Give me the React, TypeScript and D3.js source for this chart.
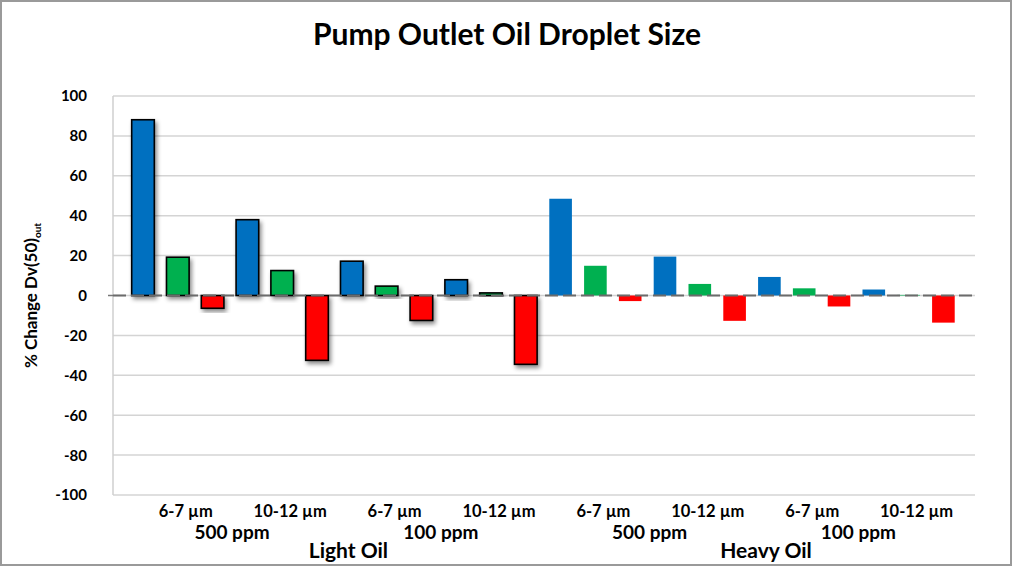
import React, { useEffect, useRef } from "react";
import * as d3 from "d3";

const W = 1012;
const H = 566;
const margin = { top: 96, right: 37, bottom: 71, left: 113 };

// data
const oils = ["Light Oil", "Heavy Oil"];
const concentrations = ["500 ppm", "100 ppm"];
const sizes = ["6-7 µm", "10-12 µm"];
const seriesColors = ["#0070C0", "#00B050", "#FF0000"];
const lightOil = [
  [88.1, 19.2, -6.4],
  [38.0, 12.5, -32.5],
  [17.2, 4.7, -12.5],
  [7.9, 1.3, -34.5],
];
const heavyOil = [
  [48.5, 14.9, -2.8],
  [19.5, 5.8, -12.7],
  [9.3, 3.6, -5.5],
  [3.0, 0.3, -13.6],
];
const yTicks = [100, 80, 60, 40, 20, 0, -20, -40, -60, -80, -100];

const font = "Lato, 'Open Sans', sans-serif";

export default function App() {
  const ref = useRef<SVGSVGElement>(null);

  useEffect(() => {
    document.body.style.margin = "0";
    const svg = d3.select(ref.current);
    svg.selectAll("*").remove();

    const innerW = W - margin.left - margin.right;
    const innerH = H - margin.top - margin.bottom;

    // drop shadow for the light oil bars
    const defs = svg.append("defs");
    const f = defs
      .append("filter")
      .attr("id", "shadow")
      .attr("x", "-30%")
      .attr("y", "-30%")
      .attr("width", "160%")
      .attr("height", "160%");
    f.append("feDropShadow")
      .attr("dx", 2)
      .attr("dy", 3)
      .attr("stdDeviation", 2)
      .attr("flood-color", "#000")
      .attr("flood-opacity", 0.45);

    svg
      .append("rect")
      .attr("x", 1)
      .attr("y", 1)
      .attr("width", W - 2)
      .attr("height", H - 2)
      .attr("fill", "#fff")
      .attr("stroke", "#9a9a9a")
      .attr("stroke-width", 2);

    // title
    svg
      .append("text")
      .attr("x", W / 2 + 1)
      .attr("y", 45)
      .attr("text-anchor", "middle")
      .style("font-family", font)
      .style("font-weight", "bold")
      .style("font-size", "30px")
      .text("Pump Outlet Oil Droplet Size");

    const g = svg
      .append("g")
      .attr("transform", `translate(${margin.left}, ${margin.top})`);

    const y = d3.scaleLinear().domain([-100, 100]).range([innerH, 0]);

    // flatten groups: oil x concentration x size
    const groups: { oil: number; conc: number; size: number; vals: number[] }[] = [];
    [lightOil, heavyOil].forEach((data, oi) => {
      data.forEach((vals, i) => {
        groups.push({ oil: oi, conc: Math.floor(i / 2), size: i % 2, vals });
      });
    });

    const bars = groups.flatMap((gr, gi) =>
      gr.vals.map((v, si) => ({ key: gi * 3 + si, v, si, oil: gr.oil }))
    );

    const x = d3
      .scaleBand<number>()
      .domain(d3.range(bars.length))
      .range([12.6, 847.8])
      .paddingInner(0.35)
      .paddingOuter(0.175);

    // gridlines
    g.append("g")
      .selectAll("line")
      .data(yTicks)
      .join("line")
      .attr("x1", 0)
      .attr("x2", innerW)
      .attr("y1", (d) => y(d))
      .attr("y2", (d) => y(d))
      .attr("stroke", "#d4d4d4")
      .attr("stroke-width", 1.5);

    // y axis
    g.append("line")
      .attr("x1", 0)
      .attr("x2", 0)
      .attr("y1", 0)
      .attr("y2", innerH)
      .attr("stroke", "#cfcfcf")
      .attr("stroke-width", 1.5);
    g.append("line")
      .attr("x1", -5)
      .attr("x2", 0)
      .attr("y1", y(0))
      .attr("y2", y(0))
      .attr("stroke", "#777")
      .attr("stroke-width", 1.5);

    g.append("g")
      .selectAll("text")
      .data(yTicks)
      .join("text")
      .attr("x", -26)
      .attr("y", (d) => y(d))
      .attr("dy", "0.36em")
      .attr("text-anchor", "end")
      .style("font-family", font)
      .style("font-weight", "bold")
      .style("font-size", "15px")
      .text((d) => d);

    // y axis title
    const yt = svg
      .append("text")
      .attr("transform", `translate(37, ${margin.top + y(0)}) rotate(-90)`)
      .attr("text-anchor", "middle")
      .style("font-family", font)
      .style("font-weight", "bold")
      .style("font-size", "17px");
    yt.append("tspan").text("% Change Dv(50)");
    yt.append("tspan").attr("dy", 4).style("font-size", "10px").text("out");

    // bars
    g.append("g")
      .selectAll("rect")
      .data(bars)
      .join("rect")
      .attr("x", (d) => x(d.key)!)
      .attr("width", x.bandwidth())
      .attr("y", (d) => y(Math.max(0, d.v)))
      .attr("height", (d) => Math.abs(y(d.v) - y(0)))
      .attr("fill", (d) => seriesColors[d.si])
      .attr("stroke", (d) => (d.oil === 0 ? "#000" : "none"))
      .attr("stroke-width", 1.6)
      .attr("filter", (d) => (d.oil === 0 ? "url(#shadow)" : null));

    // zero line
    g.append("line")
      .attr("x1", 0)
      .attr("x2", innerW)
      .attr("y1", y(0))
      .attr("y2", y(0))
      .attr("stroke", "#6b6b6b")
      .attr("stroke-width", 2.2)
      .attr("stroke-dasharray", "13,5");

    // category labels
    const groupCenter = (gi: number) =>
      (x(gi * 3)! + x(gi * 3 + 2)! + x.bandwidth()) / 2;
    const labelY = innerH;

    g.append("g")
      .selectAll("text")
      .data(groups)
      .join("text")
      .attr("x", (_, gi) => groupCenter(gi) + 8)
      .attr("y", labelY + 22)
      .attr("text-anchor", "middle")
      .style("font-family", font)
      .style("font-weight", "bold")
      .style("font-size", "16.5px")
      .text((d) => sizes[d.size]);

    const concGroups = d3.range(4);
    g.append("g")
      .selectAll("text")
      .data(concGroups)
      .join("text")
      .attr("x", (ci) => (groupCenter(ci * 2) + groupCenter(ci * 2 + 1)) / 2 + 2)
      .attr("y", labelY + 44)
      .attr("text-anchor", "middle")
      .style("font-family", font)
      .style("font-weight", "bold")
      .style("font-size", "19px")
      .text((ci) => concentrations[ci % 2]);

    g.append("g")
      .selectAll("text")
      .data(oils)
      .join("text")
      .attr("x", (_, oi) => (groupCenter(oi * 4) + groupCenter(oi * 4 + 3)) / 2 + 14)
      .attr("y", labelY + 63)
      .attr("text-anchor", "middle")
      .style("font-family", font)
      .style("font-weight", "bold")
      .style("font-size", "21px")
      .text((d) => d);
  }, []);

  return <svg ref={ref} width={W} height={H} style={{ display: "block" }} />;
}
